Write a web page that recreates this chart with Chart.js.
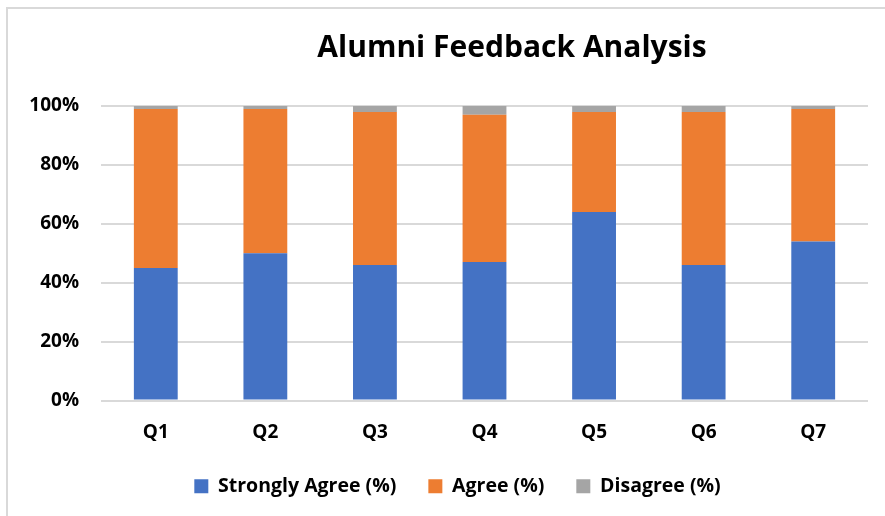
<!DOCTYPE html>
<html>
<head>
<meta charset="utf-8">
<script src="https://cdn.jsdelivr.net/npm/chart.js@4"></script>
<style>
    html, body { margin: 0; padding: 0; background: #fff; overflow: hidden; }
    #wrap { position: relative; width: 885px; height: 516px; overflow: hidden; }
    #frame { position: absolute; left: 6px; top: 7px; width: 1100px; height: 600px; border: 2px solid #d9d9d9; box-sizing: border-box; }
    #box { position: absolute; left: 0; top: 0; width: 1024px; height: 516px; }
</style>
</head>
<body>
<div id="wrap">
    <div id="frame"></div>
    <div id="box"><canvas id="feedbackChart"></canvas></div>
</div>
<script>
// Dữ liệu
const questions = ['Q1', 'Q2', 'Q3', 'Q4', 'Q5', 'Q6', 'Q7'];
const stronglyAgree = [45, 50, 46, 47, 64, 46, 54];
const agree = [54, 49, 52, 50, 34, 52, 45];
const disagree = [1, 1, 2, 3, 2, 2, 1];
const yTicks = [0, 20, 40, 60, 80, 100];

const font = '"Open Sans", Lato, sans-serif';

// dịch chú thích sang trái một chút, như bản gốc
const legendShift = {
    id: 'legendShift',
    afterLayout(chart) {
        if (chart.legend) {
            chart.legend.left -= 27;
            chart.legend.right -= 27;
        }
    }
};

document.addEventListener('DOMContentLoaded', () => {
    const ctx = document.getElementById('feedbackChart').getContext('2d');

    new Chart(ctx, {
        type: 'bar',
        data: {
            labels: questions,
            datasets: [
                { label: 'Strongly Agree (%)', data: stronglyAgree, backgroundColor: '#4472C4', yAxisID: 'y' },
                { label: 'Agree (%)', data: agree, backgroundColor: '#ED7D31', yAxisID: 'y' },
                { label: 'Disagree (%)', data: disagree, backgroundColor: '#A5A5A5', yAxisID: 'y' }
            ]
        },
        plugins: [legendShift],
        options: {
            responsive: true,
            maintainAspectRatio: false,
            animation: false,
            layout: { padding: { left: 0, right: 0, top: 0, bottom: 10 } },
            datasets: {
                bar: { categoryPercentage: 1, barPercentage: 0.4 }
            },
            plugins: {
                title: {
                    display: true,
                    text: 'Alumni Feedback Analysis',
                    color: '#000',
                    font: { family: font, size: 30, weight: 'bold' },
                    padding: { top: 30, bottom: 40 }
                },
                legend: {
                    position: 'bottom',
                    fullSize: false,
                    labels: {
                        color: '#000',
                        boxWidth: 14,
                        boxHeight: 14,
                        padding: 32,
                        font: { family: font, size: 19.5, weight: 'bold' }
                    }
                },
                tooltip: { enabled: false }
            },
            scales: {
                x: {
                    stacked: true,
                    afterFit: (scale) => { scale.height = 44; },
                    grid: { display: false, drawTicks: false },
                    border: { display: false },
                    ticks: {
                        color: '#000',
                        padding: 21,
                        font: { family: font, size: 19, weight: 'bold' }
                    }
                },
                y: {
                    stacked: true,
                    min: 0,
                    max: 100,
                    afterBuildTicks: (scale) => { scale.ticks = yTicks.map(v => ({ value: v })); },
                    afterFit: (scale) => { scale.width = 101; },
                    grid: { color: '#d9d9d9', lineWidth: 2, drawTicks: false },
                    border: { display: false },
                    ticks: {
                        color: '#000',
                        padding: 22,
                        font: { family: font, size: 19, weight: 'bold' },
                        callback: (v) => v + '%'
                    }
                },
                spacer: {
                    position: 'right',
                    display: true,
                    grid: { display: false, drawTicks: false },
                    border: { display: false },
                    ticks: { display: false },
                    afterFit: (scale) => { scale.width = 156; }
                }
            }
        }
    });
});
</script>
</body>
</html>
